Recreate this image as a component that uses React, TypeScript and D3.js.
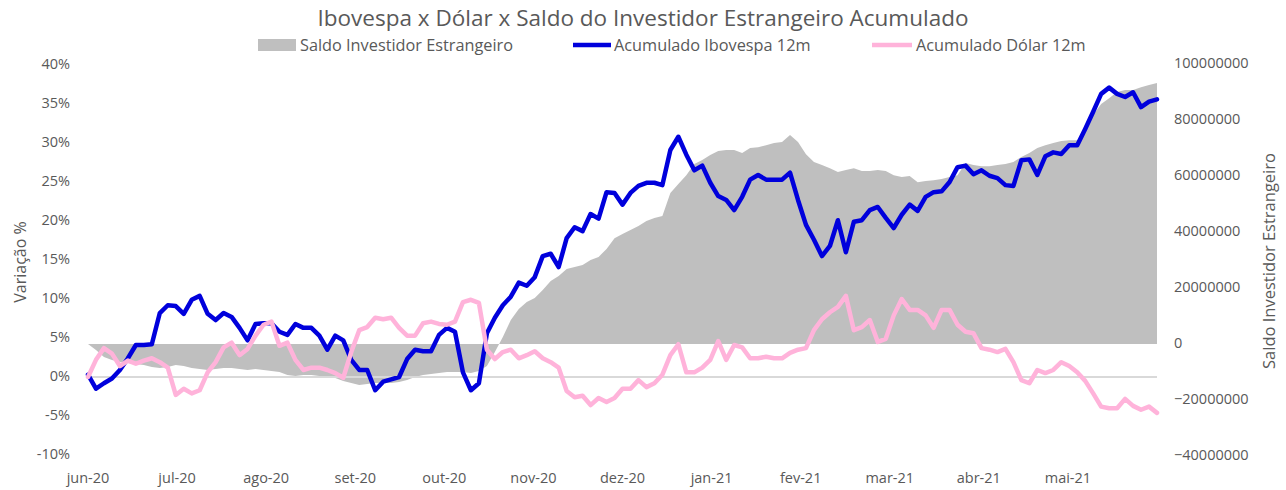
import React from "react";
import * as d3 from "d3";

const months = ["jun-20","jul-20","ago-20","set-20","out-20","nov-20","dez-20","jan-21","fev-21","mar-21","abr-21","mai-21"];
const leftTicks = [40,35,30,25,20,15,10,5,0,-5,-10];
const rightTicks = [100,80,60,40,20,0,-20,-40];

const ibovespa = [0.3,-1.5,-0.8,-0.2,0.9,2.4,4.1,4.1,4.2,8.2,
9.2,9.1,8.1,9.9,10.4,8.1,7.3,8.2,7.7,6.3,
4.7,6.8,6.9,6.9,5.8,5.4,6.8,6.3,6.3,5.3,
3.5,5.3,4.7,2.2,0.9,0.9,-1.7,-0.6,-0.3,0.0,
2.3,3.5,3.3,3.3,5.4,6.3,5.8,0.6,-1.7,-0.8,
5.6,7.6,9.2,10.3,12.1,11.7,12.8,15.5,15.8,14.1,
17.8,19.2,18.7,20.9,20.3,23.7,23.6,22.1,23.6,24.5,
24.9,24.9,24.6,29.1,30.8,28.5,26.5,27.1,24.9,23.2,
22.7,21.4,23.1,25.3,25.9,25.3,25.3,25.3,26.2,22.7,
19.5,17.6,15.5,16.8,20.1,16.0,19.9,20.1,21.4,21.8,
20.4,19.1,20.8,22.1,21.3,23.1,23.7,23.8,25.0,26.9,
27.1,26.0,26.5,25.8,25.5,24.6,24.5,27.8,27.9,25.9,
28.3,28.8,28.6,29.7,29.7,31.8,34.0,36.3,37.1,36.3,
35.9,36.5,34.6,35.3,35.6];

const dolar = [0.0,2.2,3.7,3.0,1.4,2.1,1.7,2.1,2.4,1.9,
1.2,-2.3,-1.5,-2.1,-1.7,0.6,1.9,3.8,4.4,2.8,
3.6,5.3,6.7,7.1,4.0,4.4,2.2,0.9,1.2,1.2,
0.9,0.5,-0.1,3.2,6.0,6.4,7.6,7.4,7.6,6.3,
5.3,5.3,6.9,7.1,6.8,6.7,7.1,9.6,9.9,9.5,
3.5,2.3,3.2,3.5,2.4,2.8,3.3,2.4,1.9,1.2,
-1.8,-2.6,-2.4,-3.6,-2.7,-3.2,-2.7,-1.5,-1.5,-0.4,
-1.3,-0.8,0.3,2.8,4.2,0.6,0.6,1.2,2.2,4.6,
2.2,4.1,3.8,2.4,2.4,2.6,2.4,2.4,3.1,3.5,
3.7,6.0,7.4,8.3,9.0,10.4,6.0,6.4,7.3,4.5,
4.9,7.9,10.0,8.6,8.6,7.9,6.3,8.6,8.6,6.7,
5.8,5.6,3.7,3.5,3.2,3.6,1.9,-0.4,-0.8,0.9,
0.5,0.9,1.9,1.4,0.6,-0.5,-2.1,-3.8,-4.0,-4.0,
-2.8,-3.7,-4.2,-3.8,-4.6];

// Saldo Investidor Estrangeiro (milhões)
const saldoMi = [0,-2.1,-4.6,-5.7,-6.4,-6.8,-7.1,-7.5,-8.2,-8.6,
-8.2,-7.5,-7.9,-8.6,-8.9,-9.3,-8.9,-8.6,-8.6,-8.9,
-9.3,-8.9,-9.3,-9.6,-10.0,-11.1,-11.4,-11.1,-11.1,-11.4,
-11.8,-12.1,-13.2,-13.9,-14.6,-14.3,-13.9,-13.9,-13.9,-13.6,
-12.9,-11.8,-11.1,-10.7,-10.4,-10.0,-10.0,-10.0,-10.4,-9.6,
-7.9,-2.9,2.5,8.6,12.5,15.0,16.4,19.3,22.5,24.3,
26.8,27.5,28.2,30.0,31.1,33.9,37.8,39.3,40.7,42.1,
43.9,45.0,45.7,53.9,57.1,60.3,64.3,65.7,67.5,68.9,
69.3,69.3,68.2,70.0,70.3,71.0,71.8,72.1,74.6,72.1,
67.8,65.0,63.9,62.8,61.4,62.1,62.8,61.8,61.8,62.1,
61.8,60.3,59.6,60.0,57.8,58.2,58.5,58.9,59.6,60.3,
64.6,63.9,63.5,63.5,63.9,64.3,65.0,66.8,68.2,70.0,
71.0,71.8,72.5,72.8,72.8,75.3,81.8,85.7,87.8,90.0,
90.7,90.7,91.7,92.5,93.2];

const W = 1286, H = 490;
const FONT = "'Open Sans', sans-serif";
const TXT = "#595959";
const BLUE = "#0000DC";
const PINK = "#FFB3DA";
const GREY = "#BFBFBF";

export default function App() {
  const n = ibovespa.length;
  const x = d3.scaleLinear().domain([0, n - 1]).range([88, 1157]);
  const yL = d3.scaleLinear().domain([-10, 40]).range([455, 65]);
  const yR = d3.scaleLinear().domain([-40, 100]).range([456, 64]);

  const area = d3.area<number>().x((_, i) => x(i)).y0(yR(0)).y1((d) => yR(d));
  const lineL = d3.line<number>().x((_, i) => x(i)).y((d) => yL(d));

  const monthX = (i: number) => x((i * (n - 1)) / 12);

  return (
    <svg width={W} height={H} style={{ position: "absolute", left: 0, top: 0, background: "#fff" }} fontFamily={FONT}>
      <rect width={W} height={H} fill="#fff" />
      <text x={643} y={26} textAnchor="middle" fontSize={22.5} fill={TXT}>
        Ibovespa x Dólar x Saldo do Investidor Estrangeiro Acumulado
      </text>
      {/* legend */}
      <g fontSize={16.3} fill={TXT}>
        <rect x={258} y={39} width={38} height={12} fill={GREY} />
        <text x={300} y={50.5}>Saldo Investidor Estrangeiro</text>
        <line x1={573} x2={611} y1={45} y2={45} stroke={BLUE} strokeWidth={4.5} />
        <text x={614} y={50.5}>Acumulado Ibovespa 12m</text>
        <line x1={872} x2={912} y1={45} y2={45} stroke={PINK} strokeWidth={4.5} />
        <text x={916} y={50.5}>Acumulado Dólar 12m</text>
      </g>

      <path d={area(saldoMi) || ""} fill={GREY} />
      <line x1={88} x2={1157} y1={yL(0)} y2={yL(0)} stroke="#D9D9D9" strokeWidth={2} />
      <path d={lineL(ibovespa) || ""} fill="none" stroke={BLUE} strokeWidth={4.5} strokeLinejoin="round" strokeLinecap="round" />
      <path d={lineL(dolar) || ""} fill="none" stroke={PINK} strokeWidth={4.5} strokeLinejoin="round" strokeLinecap="round" />

      <g fontSize={14.5} fill={TXT}>
        {leftTicks.map((t) => (
          <text key={t} x={70} y={yL(t)} textAnchor="end" dominantBaseline="middle">{t}%</text>
        ))}
        {rightTicks.map((t) => (
          <text key={t} x={1174} y={yR(t)} textAnchor="start" dominantBaseline="middle">{d3.format("d")(t * 1e6)}</text>
        ))}
        {months.map((m, i) => (
          <text key={m} x={monthX(i)} y={479} textAnchor="middle" dominantBaseline="middle">{m}</text>
        ))}
      </g>
      <text transform="translate(22,262) rotate(-90)" textAnchor="middle" dominantBaseline="middle" fontSize={16} fill={TXT}>Variação %</text>
      <text transform="translate(1271,261) rotate(-90)" textAnchor="middle" dominantBaseline="middle" fontSize={16.5} fill={TXT}>Saldo Investidor Estrangeiro</text>
    </svg>
  );
}
